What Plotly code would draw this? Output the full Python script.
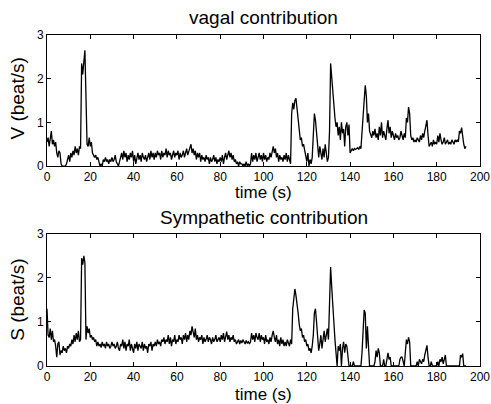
import plotly.graph_objects as go
from plotly.subplots import make_subplots

# sampled every 0.5 s starting at t = 0
vagal = [
    0.55,0.65,0.45,0.70,0.80,0.50,0.60,0.45,0.55,0.30,0.20,0.35,0.30,0.05,0.00,0.00,0.00,0.00,0.05,0.15,
    0.25,0.10,0.30,0.20,0.35,0.25,0.45,0.30,0.40,0.25,0.45,0.40,2.35,2.10,2.45,2.65,1.60,0.50,0.45,0.65,
    0.45,0.55,0.30,0.25,0.20,0.25,0.15,0.20,0.05,0.00,0.05,0.00,0.15,0.10,0.20,0.10,0.15,0.05,0.15,0.10,
    0.20,0.10,0.15,0.25,0.10,0.05,0.00,0.10,0.20,0.30,0.15,0.35,0.20,0.30,0.10,0.25,0.15,0.30,0.20,0.35,
    0.10,0.25,0.05,0.20,0.30,0.15,0.25,0.10,0.30,0.20,0.15,0.25,0.10,0.20,0.30,0.15,0.35,0.20,0.30,0.15,
    0.30,0.20,0.35,0.25,0.30,0.15,0.35,0.20,0.30,0.25,0.40,0.20,0.35,0.25,0.30,0.15,0.25,0.35,0.20,0.30,
    0.25,0.35,0.15,0.30,0.20,0.25,0.35,0.20,0.30,0.40,0.25,0.35,0.45,0.50,0.30,0.40,0.25,0.35,0.15,0.30,
    0.20,0.30,0.10,0.25,0.15,0.20,0.10,0.25,0.15,0.20,0.05,0.20,0.10,0.15,0.25,0.10,0.20,0.05,0.15,0.10,
    0.20,0.10,0.25,0.05,0.20,0.30,0.15,0.25,0.35,0.20,0.30,0.15,0.25,0.10,0.15,0.05,0.10,0.00,0.10,0.05,
    0.05,0.00,0.05,0.00,0.10,0.00,0.05,0.00,0.05,0.30,0.10,0.25,0.15,0.30,0.10,0.20,0.30,0.15,0.25,0.10,
    0.30,0.15,0.25,0.10,0.20,0.15,0.30,0.20,0.35,0.45,0.30,0.40,0.20,0.30,0.10,0.25,0.15,0.20,0.10,0.25,
    0.15,0.30,0.10,0.25,0.15,0.05,1.20,1.45,1.30,1.50,1.55,1.30,1.00,0.80,0.60,0.65,0.45,0.50,0.35,0.25,
    0.10,0.30,0.00,0.15,0.05,0.20,0.60,1.20,1.05,0.70,0.35,0.20,0.45,0.30,0.15,0.40,0.20,0.50,0.25,0.10,
    0.20,0.80,2.35,2.00,1.60,1.30,1.10,0.90,1.00,0.70,0.90,0.60,1.00,0.75,0.85,0.45,0.90,1.00,0.70,0.95,
    0.30,0.35,0.40,0.35,0.40,0.38,0.40,0.42,0.38,0.45,0.40,0.70,1.00,1.50,1.85,1.60,1.00,1.20,0.80,0.70,
    0.65,0.80,0.70,0.85,0.65,0.75,0.60,0.90,0.70,1.00,0.65,0.80,0.70,0.60,0.85,1.05,0.75,0.90,0.65,0.80,
    0.70,0.60,0.75,0.65,0.70,0.60,0.65,0.80,0.70,0.60,0.75,0.65,1.10,1.00,1.35,1.20,0.70,0.60,0.65,0.55,
    0.60,0.55,0.65,0.60,0.55,0.70,0.60,0.75,0.65,0.80,0.90,1.05,0.70,0.45,0.50,0.55,0.45,0.60,0.50,0.55,
    0.50,0.70,0.55,0.75,0.60,0.50,0.55,0.65,0.50,0.55,0.60,0.50,0.55,0.50,0.60,0.55,0.50,0.60,0.55,0.60,
    0.55,0.80,0.75,0.88,0.60,0.50,0.40,0.45,
]

sympathetic = [
    1.30,0.70,0.65,0.85,0.60,0.80,0.55,0.60,0.45,0.20,0.50,0.55,0.25,0.35,0.30,0.45,0.35,0.40,0.30,0.45,
    0.40,0.50,0.45,0.60,0.50,0.70,0.55,0.75,0.60,0.80,0.55,0.60,2.45,2.30,2.50,2.35,0.60,0.90,0.75,0.85,
    0.65,0.70,0.60,0.65,0.55,0.60,0.45,0.55,0.45,0.50,0.42,0.55,0.45,0.50,0.40,0.55,0.45,0.50,0.40,0.45,
    0.55,0.45,0.50,0.40,0.45,0.55,0.40,0.35,0.50,0.45,0.60,0.40,0.55,0.35,0.50,0.45,0.60,0.35,0.50,0.40,
    0.30,0.50,0.40,0.55,0.35,0.50,0.45,0.40,0.55,0.35,0.50,0.40,0.45,0.30,0.50,0.45,0.55,0.35,0.50,0.45,
    0.55,0.45,0.60,0.50,0.55,0.45,0.60,0.55,0.65,0.50,0.60,0.55,0.70,0.50,0.65,0.45,0.60,0.55,0.70,0.50,
    0.60,0.55,0.70,0.60,0.65,0.50,0.70,0.60,0.75,0.55,0.70,0.60,0.80,0.70,0.90,0.75,0.65,0.85,0.60,0.70,
    0.55,0.65,0.60,0.70,0.50,0.65,0.55,0.60,0.70,0.55,0.65,0.60,0.50,0.65,0.55,0.60,0.70,0.55,0.60,0.65,
    0.55,0.70,0.60,0.75,0.55,0.65,0.78,0.60,0.70,0.55,0.65,0.60,0.70,0.55,0.60,0.50,0.55,0.60,0.50,0.58,
    0.52,0.60,0.55,0.50,0.58,0.52,0.55,0.50,0.55,0.75,0.60,0.70,0.55,0.75,0.65,0.60,0.75,0.55,0.70,0.60,
    0.65,0.50,0.70,0.55,0.60,0.50,0.65,0.55,0.70,0.80,0.65,0.55,0.70,0.50,0.60,0.45,0.65,0.50,0.60,0.45,
    0.55,0.45,0.60,0.50,0.45,0.60,0.50,1.30,1.55,1.75,1.60,1.30,1.20,0.95,0.80,0.85,0.65,0.70,0.55,0.60,
    0.45,0.50,0.35,0.40,0.30,0.45,0.70,1.20,1.30,1.00,0.60,0.35,0.50,0.70,0.40,0.60,0.80,0.55,0.70,0.85,
    0.60,1.30,2.25,1.80,1.25,1.00,0.60,0.30,0.00,0.45,0.35,0.50,0.00,0.40,0.55,0.30,0.50,0.45,0.25,0.00,
    0.00,0.00,0.00,0.10,0.00,0.00,0.00,0.00,0.00,0.00,0.00,0.30,0.80,1.27,1.20,0.40,0.90,0.30,0.00,0.00,
    0.00,0.00,0.00,0.10,0.35,0.20,0.40,0.30,0.00,0.00,0.00,0.15,0.00,0.00,0.20,0.30,0.15,0.20,0.00,0.00,
    0.00,0.00,0.00,0.00,0.00,0.00,0.15,0.20,0.20,0.05,0.00,0.30,0.60,0.50,0.65,0.55,0.00,0.00,0.00,0.00,
    0.00,0.00,0.10,0.00,0.15,0.10,0.05,0.15,0.10,0.25,0.35,0.47,0.20,0.00,0.00,0.10,0.00,0.00,0.00,0.00,
    0.00,0.10,0.00,0.15,0.10,0.20,0.05,0.15,0.25,0.00,0.00,0.00,0.00,0.00,0.00,0.00,0.00,0.00,0.00,0.00,
    0.00,0.00,0.25,0.20,0.28,0.00,0.00,0.00,
]

dt = 0.5
time_v = [i * dt for i in range(len(vagal))]
time_s = [i * dt for i in range(len(sympathetic))]

x_ticks = [0, 20, 40, 60, 80, 100, 120, 140, 160, 180, 200]
y_ticks = [0, 1, 2, 3]

FONT = "Liberation Sans, Arial, Helvetica, sans-serif"

fig = make_subplots(rows=2, cols=1, vertical_spacing=0.205)
fig.add_trace(go.Scatter(x=time_v, y=vagal, mode="lines",
                         line=dict(color="black", width=1.3)), row=1, col=1)
fig.add_trace(go.Scatter(x=time_s, y=sympathetic, mode="lines",
                         line=dict(color="black", width=1.3)), row=2, col=1)

axis_common = dict(showline=True, linecolor="black", linewidth=1, mirror="ticks",
                   ticks="inside", ticklen=4, tickcolor="black", showgrid=False,
                   zeroline=False, automargin=False,
                   tickfont=dict(size=12, color="black", family=FONT))
fig.update_xaxes(range=[0, 200], tickvals=x_ticks, **axis_common)
fig.update_yaxes(range=[0, 3], tickvals=y_ticks, **axis_common)
fig.update_layout(yaxis=dict(domain=[0.604, 1.0]), yaxis2=dict(domain=[0.0, 0.399]))

annots = [
    dict(text="vagal contribution", x=0.5, y=1.054, size=19),
    dict(text="Sympathetic contribution", x=0.5, y=0.450, size=19),
    dict(text="time (s)", x=0.5, y=0.523, size=17),
    dict(text="time (s)", x=0.5, y=-0.085, size=17),
]
for a in annots:
    fig.add_annotation(text=a["text"], x=a["x"], y=a["y"], xref="paper", yref="paper",
                       showarrow=False, xanchor="center", yanchor="middle",
                       font=dict(size=a["size"], color="black", family=FONT))
for txt, yy in [("V (beat/s)", 0.808), ("S (beat/s)", 0.2)]:
    fig.add_annotation(text=txt, x=-0.067, y=yy, xref="paper", yref="paper",
                       showarrow=False, textangle=-90, xanchor="center", yanchor="middle",
                       font=dict(size=19, color="black", family=FONT))

fig.update_layout(width=491, height=404, showlegend=False, autosize=False,
                  margin=dict(l=47, r=11, t=35, b=38),
                  paper_bgcolor="white", plot_bgcolor="white",
                  font=dict(family=FONT, color="black"))

fig.write_html("out.html",
               config={"displayModeBar": False, "responsive": False},
               post_script=("document.body.style.margin='0px';"
                            "document.body.style.overflow='hidden';"
                            "Plotly.relayout(document.getElementById('{plot_id}'),"
                            "{width:491,height:404});"))
